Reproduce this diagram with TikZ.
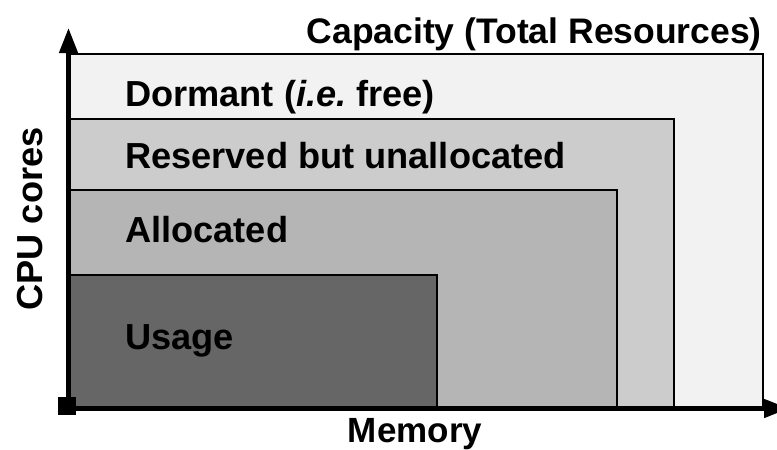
\documentclass[tikz,border=0pt]{standalone}
\usepackage{fontspec}
\setmainfont{Liberation Sans}
\usetikzlibrary{arrows.meta}
\definecolor{capfill}{HTML}{F2F2F2}
\definecolor{resfill}{HTML}{CCCCCC}
\definecolor{allocfill}{HTML}{B5B5B5}
\definecolor{usefill}{HTML}{666666}
\frenchspacing
\tikzset{
  region/.style={draw=black, line width=2.6pt},
  lbl/.style={inner sep=0pt, font=\fontsize{36.2}{40}\selectfont\bfseries},
  axis/.style={line width=4.5pt, -{Triangle[length=25pt,width=18pt]}}
}
\begin{document}
\begin{tikzpicture}[x=1pt,y=-1pt]
\useasboundingbox (0,0) rectangle (777,450);
\coordinate (O) at (68.5,408.5);
\draw[region, fill=capfill] (69,408) rectangle (763,54);
\draw[region, fill=resfill] (69,408) rectangle (674,119);
\draw[region, fill=allocfill] (69,408) rectangle (617,190);
\draw[region, fill=usefill] (69,408) rectangle (437,275);
\coordinate (ytip) at (68.5,28);
\coordinate (xtip) at (789,408.5);
\draw[axis] (O) -- (ytip);
\draw[axis] (O) -- (xtip);
\node[fill=black, minimum size=18pt, inner sep=0pt] (orig) at (67,405.5) {};
\node[lbl, font=\fontsize{35.5}{40}\selectfont\bfseries, anchor=base east] (cap) at (762,43) {Capacity (Total Resources)};
\node[lbl, anchor=base west] (dorm) at (125,106) {Dormant (\textit{i.e.} free)};
\node[lbl, anchor=base west] (res) at (125,168) {Reserved but unallocated};
\node[lbl, anchor=base west] (alloc) at (125,242) {Allocated};
\node[lbl, anchor=base west] (use) at (125,349) {Usage};
\node[lbl, font=\fontsize{35}{40}\selectfont\bfseries, anchor=base] (mem) at (415,442) {Memory};
\node[lbl, anchor=base, rotate=90] (cpu) at (42,219) {CPU cores};
\end{tikzpicture}
\end{document}
